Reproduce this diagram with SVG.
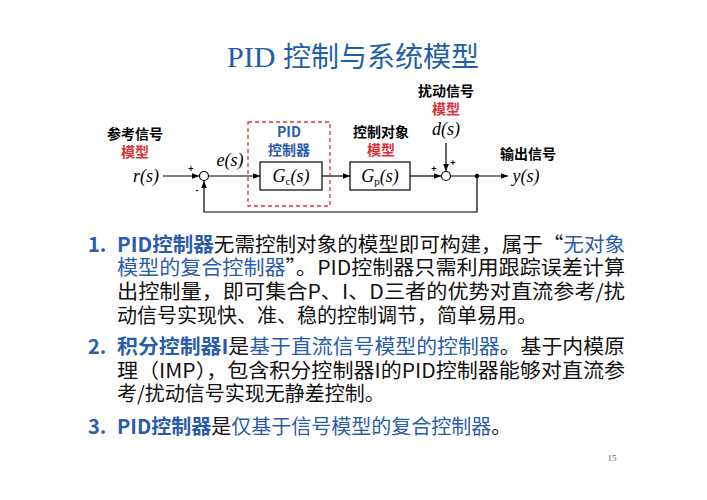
<svg xmlns="http://www.w3.org/2000/svg" width="707" height="500" viewBox="0 0 707 500">
<defs>
<marker id="ah" viewBox="0 0 10 10" refX="10" refY="5" markerWidth="7" markerHeight="7" orient="auto" markerUnits="userSpaceOnUse"><path d="M0,1 L10,5 L0,9 Z" fill="#000"/></marker>
<style>
.lbl{font-family:"Noto Sans CJK SC","Liberation Sans",sans-serif;font-weight:bold;font-size:14px;text-anchor:middle}
.red{fill:#e0303a}.blue{fill:#2a5caa}
.math{font-family:"Liberation Serif","DejaVu Serif",serif;font-style:italic;font-size:18px;text-anchor:middle}
.box{fill:#fff;stroke:#000;stroke-width:1.2}
.ln{stroke:#000;stroke-width:1.2;fill:none}
.sm{font-family:"Liberation Sans",sans-serif;font-size:9px;font-weight:bold;text-anchor:middle}
.body{font-family:"Noto Sans CJK SC","Liberation Sans",sans-serif;font-size:20px;fill:#111}
.b{font-weight:bold;fill:#2a5caa}
.h{fill:#2a5caa}
</style>
</defs>
<rect width="707" height="500" fill="#fff"/>
<text x="353" y="67" text-anchor="middle" font-family="'Liberation Serif','Noto Sans CJK SC',serif" font-size="30" fill="#1f5fa8">PID <tspan font-family="'Noto Sans CJK SC',sans-serif" font-size="28">控制与系统模型</tspan></text>

<g id="connectors">
<line class="ln" x1="163" y1="176" x2="199" y2="176" marker-end="url(#ah)"/>
<line class="ln" x1="208" y1="176" x2="260" y2="176" marker-end="url(#ah)"/>
<line class="ln" x1="322" y1="176" x2="350" y2="176" marker-end="url(#ah)"/>
<line class="ln" x1="410" y1="176" x2="441" y2="176" marker-end="url(#ah)"/>
<line class="ln" x1="450" y1="176" x2="508" y2="176" marker-end="url(#ah)"/>
<line class="ln" x1="446" y1="143" x2="446" y2="171" marker-end="url(#ah)"/>
<polyline class="ln" points="477,176 477,212 204,212 204,181" marker-end="url(#ah)"/>
<circle cx="477" cy="176" r="2.2" fill="#000"/>
</g>

<g id="ref"><text class="lbl" x="135" y="139">参考信号</text><text class="lbl red" x="135" y="157">模型</text><text class="math" x="146" y="182">r(s)</text></g>
<g id="sum1"><circle class="box" cx="204" cy="176" r="4.5"/><text class="sm" x="191" y="172">+</text><text class="sm" x="197" y="193">-</text></g>
<g id="err"><text class="math" x="230" y="166">e(s)</text></g>
<g id="pid"><rect x="248" y="122" width="82" height="84" fill="none" stroke="#e0303a" stroke-width="1.3" stroke-dasharray="4,3"/><text class="lbl blue" x="289" y="137">PID</text><text class="lbl blue" x="289" y="155">控制器</text><rect class="box" x="260" y="162" width="62" height="28"/><text class="math" x="291" y="182">G<tspan font-size="11" font-style="normal" dy="3">c</tspan><tspan dy="-3">(s)</tspan></text></g>
<g id="plant"><text class="lbl" x="381" y="137">控制对象</text><text class="lbl red" x="381" y="155">模型</text><rect class="box" x="350" y="162" width="60" height="28"/><text class="math" x="380" y="182">G<tspan font-size="11" font-style="normal" dy="3">p</tspan><tspan dy="-3">(s)</tspan></text></g>
<g id="dist"><text class="lbl" x="446" y="96">扰动信号</text><text class="lbl red" x="446" y="114">模型</text><text class="math" x="446" y="135">d(s)</text></g>
<g id="sum2"><circle class="box" cx="446" cy="176" r="4.5"/><text class="sm" x="434" y="172">+</text><text class="sm" x="453" y="166">+</text></g>
<g id="out"><text class="lbl" x="528" y="159">输出信号</text><text class="math" x="526" y="182">y(s)</text></g>

<g id="body" class="body">
<text x="88" y="252"><tspan class="b">1.</tspan></text>
<text x="117" y="252" textLength="508" lengthAdjust="spacingAndGlyphs"><tspan class="b">PID控制器</tspan>无需控制对象的模型即可构建，属于“<tspan class="h">无对象</tspan></text>
<text x="117" y="275" textLength="508" lengthAdjust="spacingAndGlyphs"><tspan class="h">模型的复合控制器</tspan>”。PID控制器只需利用跟踪误差计算</text>
<text x="117" y="299" textLength="508" lengthAdjust="spacingAndGlyphs">出控制量，即可集合P、I、D三者的优势对直流参考/扰</text>
<text x="117" y="323">动信号实现快、准、稳的控制调节，简单易用。</text>
<text x="88" y="354"><tspan class="b">2.</tspan></text>
<text x="117" y="354" textLength="508" lengthAdjust="spacingAndGlyphs"><tspan class="b">积分控制器I</tspan>是<tspan class="h">基于直流信号模型的控制器</tspan>。基于内模原</text>
<text x="117" y="378" textLength="508" lengthAdjust="spacingAndGlyphs">理（IMP），包含积分控制器I的PID控制器能够对直流参</text>
<text x="117" y="401">考/扰动信号实现无静差控制。</text>
<text x="88" y="434"><tspan class="b">3.</tspan></text>
<text x="117" y="434"><tspan class="b">PID控制器</tspan>是<tspan class="h">仅基于信号模型的复合控制器</tspan>。</text>
</g>
<text x="612" y="461" font-family="'Liberation Serif',serif" font-size="9" fill="#666" text-anchor="middle">15</text>
</svg>
